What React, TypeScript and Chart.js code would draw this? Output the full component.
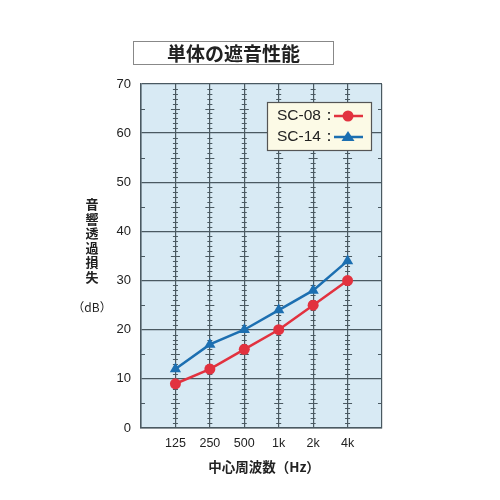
import React, { useEffect, useRef } from "react";
import { Chart, registerables } from "chart.js";

Chart.register(...registerables);

const categories = ["125", "250", "500", "1k", "2k", "4k"];
const sc08 = [9, 12, 16, 20, 25, 30];
const sc14 = [12, 17, 20, 24, 28, 34];
const yTicks = [0, 10, 20, 30, 40, 50, 60, 70];

const RED = "#e2323f";
const BLUE = "#1c6fb1";
const GRID = "#4a5961";

const decorPlugin = {
  id: "decor",
  beforeDatasetsDraw(chart: any) {
    const { ctx, chartArea, scales } = chart;
    const xs = scales.x;
    const ys = scales.y;
    ctx.save();
    ctx.strokeStyle = GRID;
    ctx.lineWidth = 1;
    categories.forEach((_, i) => {
      const x = xs.getPixelForValue(i + 1);
      for (let v = 1; v < 70; v++) {
        if (v % 10 === 0) continue;
        const y = Math.round(ys.getPixelForValue(v)) + 0.5;
        const hw = v % 5 === 0 ? 4.5 : 2.5;
        ctx.beginPath();
        ctx.moveTo(x - hw, y);
        ctx.lineTo(x + hw, y);
        ctx.stroke();
      }
    });
    for (let v = 5; v < 70; v += 10) {
      const y = Math.round(ys.getPixelForValue(v)) + 0.5;
      ctx.beginPath();
      ctx.moveTo(chartArea.left, y);
      ctx.lineTo(chartArea.left + 4, y);
      ctx.moveTo(chartArea.right, y);
      ctx.lineTo(chartArea.right - 4, y);
      ctx.stroke();
    }
    ctx.restore();
  },
  afterDatasetsDraw(chart: any) {
    const { ctx } = chart;
    ctx.save();
    const bx = 267, by = 102, bw = 104, bh = 48;
    ctx.fillStyle = "#fcfae6";
    ctx.fillRect(bx, by, bw, bh);
    ctx.strokeStyle = "#555";
    ctx.lineWidth = 1.2;
    ctx.strokeRect(bx + 0.5, by + 0.5, bw, bh);
    ctx.font = "15.5px 'Liberation Sans', Arial, sans-serif";
    ctx.textBaseline = "middle";
    ctx.textAlign = "left";
    const rows = [
      { label: "SC-08：", color: RED, shape: "circle", y: by + 14 },
      { label: "SC-14：", color: BLUE, shape: "triangle", y: by + 35 },
    ];
    rows.forEach((r) => {
      ctx.fillStyle = "#222";
      ctx.fillText(r.label, bx + 10, r.y);
      ctx.strokeStyle = r.color;
      ctx.lineWidth = 2.5;
      ctx.beginPath();
      ctx.moveTo(bx + 67, r.y);
      ctx.lineTo(bx + 96, r.y);
      ctx.stroke();
      ctx.fillStyle = r.color;
      ctx.beginPath();
      if (r.shape === "circle") {
        ctx.arc(bx + 81, r.y, 5.5, 0, Math.PI * 2);
      } else {
        ctx.moveTo(bx + 81, r.y - 6);
        ctx.lineTo(bx + 87.5, r.y + 4);
        ctx.lineTo(bx + 74.5, r.y + 4);
        ctx.closePath();
      }
      ctx.fill();
    });
    ctx.restore();
  },
};

const bgPlugin = {
  id: "bg",
  beforeDraw(chart: any) {
    const { ctx, chartArea } = chart;
    ctx.save();
    ctx.fillStyle = "#d8eaf4";
    ctx.fillRect(chartArea.left, chartArea.top, chartArea.right - chartArea.left, chartArea.bottom - chartArea.top);
    ctx.restore();
  },
};

export default function App() {
  const ref = useRef<HTMLCanvasElement>(null);
  useEffect(() => {
    if (!ref.current) return;
    const toXY = (arr: number[]) => arr.map((v, i) => ({ x: i + 1, y: v }));
    const chart = new Chart(ref.current, {
      type: "line",
      data: {
        datasets: [
          {
            label: "SC-14",
            data: toXY(sc14),
            borderColor: BLUE,
            backgroundColor: BLUE,
            borderWidth: 2.5,
            pointStyle: "triangle",
            pointRadius: 6.5,
            pointBorderWidth: 0,
          },
          {
            label: "SC-08",
            data: toXY(sc08),
            borderColor: RED,
            backgroundColor: RED,
            borderWidth: 2.5,
            pointStyle: "circle",
            pointRadius: 5.5,
            pointBorderWidth: 0,
          },
        ],
      },
      options: {
        animation: false,
        responsive: false,
        devicePixelRatio: 1,
        layout: { padding: { left: 0, top: 84, right: 118, bottom: 0 } },
        plugins: { legend: { display: false }, tooltip: { enabled: false } },
        scales: {
          x: {
            type: "linear",
            min: 0,
            max: 7,
            afterFit: (s: any) => { s.height = 72; },
            afterBuildTicks: (s: any) => { s.ticks = [0, 1, 2, 3, 4, 5, 6, 7].map((v) => ({ value: v })); },
            ticks: {
              callback: (v: any) => categories[Number(v) - 1] ?? "",
              color: "#222",
              font: { family: "'Liberation Sans', Arial, sans-serif", size: 12.5 },
              padding: 8,
              maxRotation: 0,
            },
            grid: { color: GRID, lineWidth: 1.2, drawTicks: false },
            border: { color: GRID, width: 1.5 },
          },
          y: {
            min: 0,
            max: 70,
            afterFit: (s: any) => { s.width = 141; },
            afterBuildTicks: (s: any) => { s.ticks = yTicks.map((v) => ({ value: v })); },
            ticks: {
              color: "#222",
              font: { family: "'Liberation Sans', Arial, sans-serif", size: 13 },
              padding: 10,
            },
            grid: { color: GRID, lineWidth: 1.3, drawTicks: false },
            border: { color: GRID, width: 1.5 },
          },
        },
      },
      plugins: [bgPlugin, decorPlugin],
    });
    return () => chart.destroy();
  }, []);

  const cjk = "'Noto Sans CJK JP', sans-serif";
  return (
    <div style={{ position: "absolute", left: 0, top: 0, width: 500, height: 500, background: "#fff" }}>
      <canvas ref={ref} width={500} height={500} style={{ position: "absolute", left: 0, top: 0 }} />
      <div
        style={{
          position: "absolute", left: 133, top: 41, width: 199, height: 22,
          border: "1px solid #888", fontFamily: cjk, fontWeight: 700, fontSize: 19,
          lineHeight: "22px", textAlign: "center", color: "#222", background: "#fff",
        }}
      >
        単体の遮音性能
      </div>
      <div
        style={{
          position: "absolute", left: 83, top: 197, width: 18, fontFamily: cjk, fontWeight: 700,
          fontSize: 13, lineHeight: "14.5px", textAlign: "center", color: "#222",
        }}
      >
        {"音響透過損失".split("").map((c, i) => (<div key={i}>{c}</div>))}
      </div>
      <div
        style={{
          position: "absolute", left: 72, top: 298, width: 40, fontFamily: cjk,
          fontSize: 12, lineHeight: "18px", textAlign: "center", color: "#222",
        }}
      >
        （dB）
      </div>
      <div
        style={{
          position: "absolute", left: 180, top: 456, width: 168, fontFamily: cjk, fontWeight: 700,
          fontSize: 13.5, lineHeight: "20px", textAlign: "center", color: "#222",
        }}
      >
        中心周波数（Hz）
      </div>
    </div>
  );
}
